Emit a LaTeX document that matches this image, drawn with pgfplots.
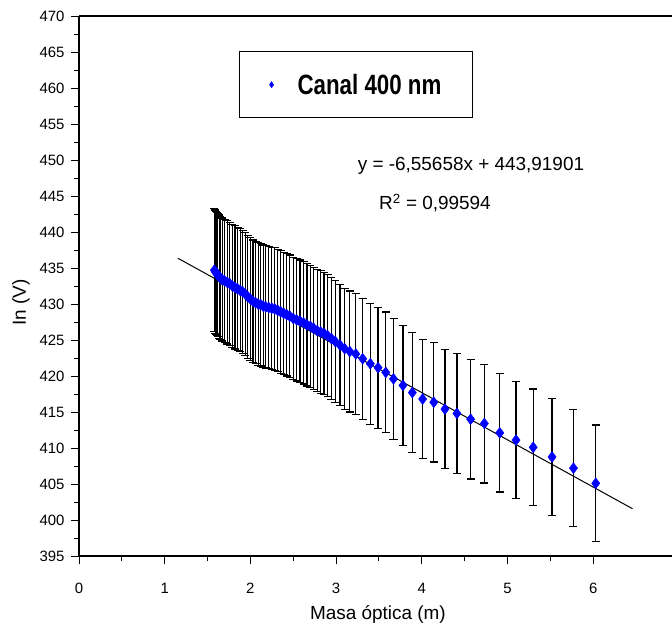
\documentclass[border=0pt]{standalone}
\usepackage{fontspec}
\setmainfont{Liberation Sans}
\usepackage{pgfplots}
\usepackage{pgfplotstable}
\pgfplotsset{compat=1.18}
\definecolor{ptblue}{RGB}{0,0,255}
\pgfplotstableread{
x y e
1.58 434.7 8.55
1.59 434.5 8.55
1.60 434.3 8.55
1.61 434.2 8.55
1.62 434.0 8.55
1.635 433.8 8.55
1.65 433.6 8.55
1.67 433.4 8.55
1.70 433.2 8.55
1.73 433.0 8.55
1.76 432.8 8.55
1.79 432.5 8.55
1.82 432.3 8.55
1.85 432.1 8.55
1.88 431.9 8.55
1.91 431.7 8.55
1.94 431.4 8.55
1.97 431.0 8.55
2.00 430.7 8.5
2.03 430.4 8.5
2.06 430.2 8.5
2.09 430.0 8.5
2.12 429.9 8.5
2.15 429.7 8.5
2.18 429.6 8.5
2.215 429.5 8.5
2.25 429.4 8.5
2.285 429.3 8.5
2.32 429.1 8.5
2.355 428.9 8.5
2.39 428.7 8.5
2.425 428.5 8.5
2.46 428.3 8.5
2.50 428.0 8.5
2.54 427.8 8.5
2.58 427.6 8.5
2.62 427.4 8.5
2.66 427.1 8.5
2.70 426.9 8.5
2.74 426.6 8.5
2.78 426.3 8.5
2.82 426.1 8.5
2.86 425.9 8.5
2.90 425.6 8.5
2.945 425.2 8.5
2.99 424.8 8.5
3.045 424.3 8.4
3.10 423.8 8.4
3.16 423.4 8.4
3.23 423.05 8.4
3.31 422.4 8.4
3.40 421.7 8.4
3.49 421.15 8.4
3.58 420.5 8.4
3.67 419.6 8.4
3.78 418.7 8.35
3.89 417.7 8.35
4.01 416.8 8.3
4.14 416.35 8.3
4.27 415.4 8.3
4.41 414.8 8.3
4.57 414.0 8.3
4.73 413.4 8.25
4.91 412.1 8.2
5.10 411.1 8.1
5.30 410.1 8.1
5.52 408.75 8.1
5.77 407.2 8.15
6.03 405.1 8.1
}\datatable
\pgfplotstableread{
x y
1.155 436.35
6.46 401.56
}\fittable
\begin{document}
\begin{tikzpicture}
\begin{axis}[
  scale only axis,
  width=593bp, height=540bp,
  xmin=0, xmax=6.92, ymin=395, ymax=470,
  axis x line*=box, axis y line*=left,
  axis line style={-, line width=1.1bp, black},
  xtick={0,1,2,3,4,5,6}, minor x tick num=1,
  ytick={395,400,...,470}, minor y tick num=1,
  xtick pos=left,
  tick align=outside,
  major tick length=8bp, minor tick length=5bp,
  tick style={line width=1bp, black},
  /pgf/number format/assume math mode=true,
  ticklabel style={font=\fontsize{15}{18}\selectfont},
  xticklabel style={yshift=-16bp},
  yticklabel style={xshift=-3bp},
  xlabel={Masa óptica (m)},
  ylabel={In (V)},
  label style={font=\fontsize{19}{22}\selectfont},
  xlabel style={at={(axis description cs:0.504,-0.108)}, anchor=center},
  ylabel style={at={(axis description cs:-0.098,0.47)}, anchor=center},
  legend style={at={(axis cs:1.867,465.1)}, anchor=north west, draw=black, line width=1.2bp,
    inner xsep=22bp, inner ysep=20bp, font=\fontsize{28}{32}\bfseries},
  legend image code/.code={\path[draw=none, fill=none] (0,-3bp) rectangle (16bp,3bp);
    \fill[ptblue, draw=none] (10bp,-3.5bp) -- (12.4bp,0) -- (10bp,3.5bp) -- (7.6bp,0) -- cycle;},
]
\coordinate (O) at (rel axis cs:0,0);
\addplot[only marks, mark=diamond*, mark size=5.5bp, color=ptblue,
  mark options={fill=ptblue, draw=ptblue},
  error bars/.cd, y dir=both, y explicit,
  error bar style={line width=1.2bp, black},
  error mark options={rotate=90, mark size=4bp, line width=1.2bp, black}]
  table[x=x, y=y, y error=e]{\datatable};
\addlegendentry{\hspace*{18bp}\scalebox{0.8}[1]{Canal 400 nm}\hspace*{7bp}}
\addplot[forget plot, black, line width=1bp] table[x=x,y=y]{\fittable};
\node[font=\fontsize{19}{22}\selectfont] at (axis cs:4.574,449.2) {y = -6,55658x + 443,91901};
\node[font=\fontsize{19}{22}\selectfont] at (axis cs:4.154,444.0) {R\textsuperscript{2} = 0,99594};
\end{axis}
\pgfresetboundingbox
\useasboundingbox (O) ++(-79bp,-80bp) rectangle ++(672bp,636bp);
\end{tikzpicture}
\end{document}
